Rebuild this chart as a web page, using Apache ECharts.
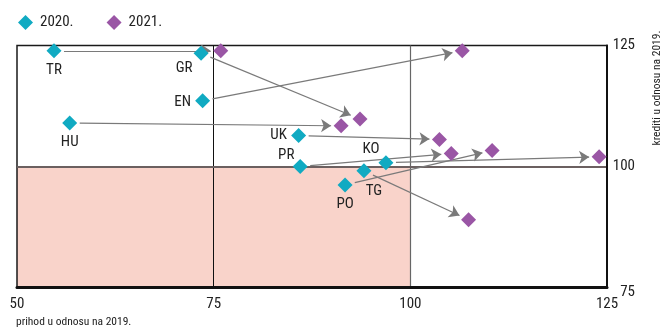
<!DOCTYPE html>
<html>
<head>
<meta charset="utf-8">
<script src="https://cdn.jsdelivr.net/npm/echarts@6/dist/echarts.min.js"></script>
<style>
  html, body { margin: 0; padding: 0; background: #fff; }
  #chart { width: 660px; height: 333px; }
</style>
</head>
<body>
<div id="chart"></div>
<script>
// zemlje
const countries = ["TR", "GR", "EN", "HU", "UK", "PR", "KO", "TG", "PO"];
// prihod u odnosu na 2019. (x)
const income2020 = [54.7, 73.4, 73.6, 56.7, 85.8, 86.0, 96.9, 94.1, 91.7];
const income2021 = [75.9, 93.6, 106.6, 91.2, 103.7, 105.2, 124.0, 107.4, 110.4];
// krediti u odnosu na 2019. (y)
const credit2020 = [123.9, 123.4, 113.6, 109.0, 106.4, 100.0, 100.8, 99.1, 96.2];
const credit2021 = [123.9, 109.8, 123.9, 108.4, 105.6, 102.7, 102.0, 89.0, 103.3];
const xTicks = [50, 75, 100, 125];
const yTicks = [75, 100, 125];

// label offset per country (px from the marker)
const labelOffset = {
  TR: [0, 19], GR: [-17, 15], EN: [-20, 2], HU: [0, 19], UK: [-20, 0],
  PR: [-14, -11], KO: [-15, -13], TG: [10, 20], PO: [0, 19]
};

const FONT = "'Roboto Condensed', 'DejaVu Sans Condensed', sans-serif";
const TEAL = "#10aac2";
const PURPLE = "#9a56a5";

const chart = echarts.init(document.getElementById("chart"));

function arrowData(trimStart, trimEnd) {
  return countries.map((c, i) => {
    let p1 = [income2020[i], credit2020[i]];
    let p2 = [income2021[i], credit2021[i]];
    if (trimStart == null) return { coords: [p1, p2] };
    const a = chart.convertToPixel({ gridIndex: 0 }, p1);
    const b = chart.convertToPixel({ gridIndex: 0 }, p2);
    const dx = b[0] - a[0], dy = b[1] - a[1];
    const len = Math.sqrt(dx * dx + dy * dy);
    const ux = dx / len, uy = dy / len;
    const s = [a[0] + ux * trimStart, a[1] + uy * trimStart];
    const e = [b[0] - ux * trimEnd, b[1] - uy * trimEnd];
    return {
      coords: [
        chart.convertFromPixel({ gridIndex: 0 }, s),
        chart.convertFromPixel({ gridIndex: 0 }, e)
      ]
    };
  });
}

chart.setOption({
  animation: false,
  textStyle: { fontFamily: FONT },
  legend: {
    left: 13,
    top: 10,
    itemWidth: 15,
    itemHeight: 15,
    itemGap: 33,
    icon: "diamond",
    itemStyle: { opacity: 1 },
    textStyle: { fontFamily: FONT, fontSize: 15, color: "#222", padding: [0, 0, 0, 2] },
    data: ["2020.", "2021."]
  },
  grid: {
    left: 17,
    right: 53,
    top: 45.5,
    bottom: 45.5,
    show: true,
    z: 4,
    borderColor: "#1a1a1a",
    borderWidth: 1.5
  },
  xAxis: {
    type: "value",
    z: 6,
    min: xTicks[0],
    max: xTicks[xTicks.length - 1],
    interval: 25,
    axisLine: { show: true, onZero: false, lineStyle: { color: "#111", width: 3 } },
    axisTick: { show: false },
    splitLine: { show: false },
    axisLabel: { margin: 9, fontSize: 15, color: "#222", fontFamily: FONT }
  },
  yAxis: {
    type: "value",
    z: 6,
    position: "right",
    min: yTicks[0],
    max: yTicks[yTicks.length - 1],
    interval: 25,
    axisLine: { show: true, onZero: false, lineStyle: { color: "#111", width: 2 } },
    axisTick: { show: false },
    splitLine: { show: false },
    axisLabel: {
      margin: 28,
      align: "right",
      fontSize: 15,
      color: "#222",
      fontFamily: FONT,
      formatter: v => (v === yTicks[0] ? "{low|" + v + "}" : String(v)),
      rich: { low: { fontSize: 15, fontFamily: FONT, color: "#222", padding: [10, 0, 0, 0] } }
    }
  },
  graphic: [
    {
      type: "text",
      left: 16,
      top: 316,
      style: { text: "prihod u odnosu na 2019.", fontFamily: FONT, fontSize: 11.5, fill: "#222" }
    },
    {
      type: "text",
      x: 657,
      y: 88,
      rotation: Math.PI / 2,
      style: {
        text: "krediti u odnosu na 2019.",
        fontFamily: FONT,
        fontSize: 11.5,
        fill: "#222",
        align: "center",
        verticalAlign: "middle"
      }
    }
  ],
  series: [
    {
      name: "zones",
      type: "scatter",
      z: 1,
      silent: true,
      data: [],
      markArea: {
        silent: true,
        itemStyle: { color: "#f9d3ca", opacity: 1 },
        data: [[{ coord: [50, 75] }, { coord: [100, 100] }]]
      },
      markLine: {
        silent: true,
        symbol: "none",
        label: { show: false },
        data: [
          { xAxis: 75, lineStyle: { color: "#111", width: 1, type: "solid" } },
          { xAxis: 100, lineStyle: { color: "#666", width: 1.2, type: "solid" } },
          { yAxis: 100, lineStyle: { color: "#6b6060", width: 1.8, type: "solid" } }
        ]
      }
    },
    {
      name: "arrows",
      type: "lines",
      coordinateSystem: "cartesian2d",
      z: 5,
      silent: true,
      symbol: ["none", "arrow"],
      symbolSize: 10,
      lineStyle: { color: "#7a7a7a", width: 1.2, opacity: 1 },
      data: arrowData(null, null)
    },
    {
      name: "2020.",
      type: "scatter",
      z: 7,
      symbol: "diamond",
      symbolSize: 15,
      itemStyle: { color: TEAL, opacity: 1 },
      label: {
        show: true,
        position: "inside",
        fontSize: 15,
        color: "#222",
        fontFamily: FONT,
        formatter: p => p.data.name
      },
      data: countries.map((c, i) => ({
        name: c,
        value: [income2020[i], credit2020[i]],
        label: { offset: labelOffset[c] }
      }))
    },
    {
      name: "2021.",
      type: "scatter",
      z: 7,
      symbol: "diamond",
      symbolSize: 15,
      itemStyle: { color: PURPLE, opacity: 1 },
      data: countries.map((c, i) => [income2021[i], credit2021[i]])
    }
  ]
});

// skrati strelice da ne diraju markere
chart.setOption({ series: [{ name: "arrows", data: arrowData(10, 10) }] });
</script>
</body>
</html>
